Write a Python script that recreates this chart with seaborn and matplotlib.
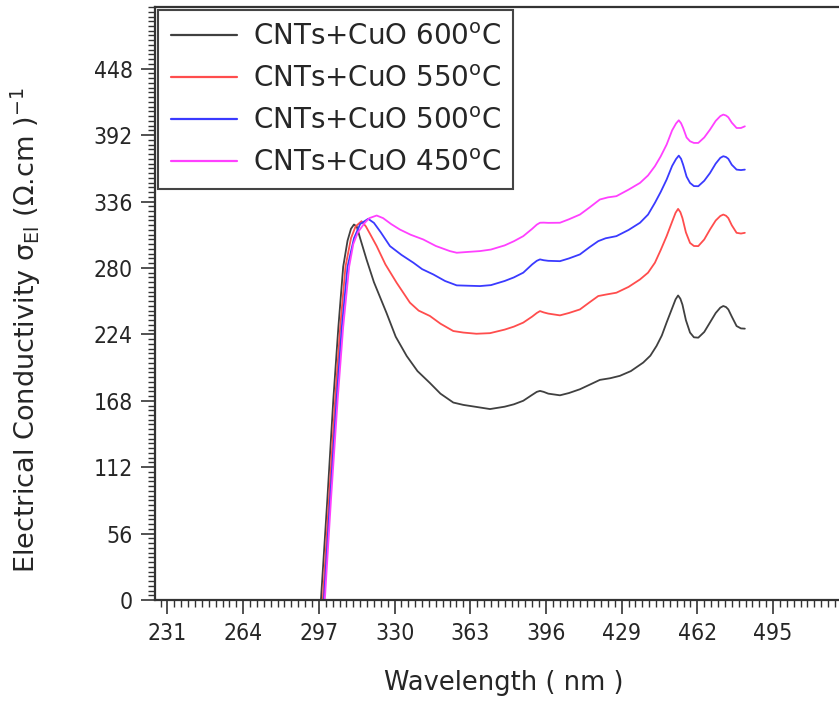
import numpy as np
import pandas as pd
import matplotlib
matplotlib.use("Agg")
import matplotlib.pyplot as plt
from matplotlib.ticker import MultipleLocator
import seaborn as sns

# wavelength (nm) / conductivity readings, one pair of lists per sample
wl_600 = [297.9, 300.7, 303.3, 305.5, 307.6, 309.5, 311.0, 312.3, 313.5, 315.0, 317.8, 321.0,
          326.5, 330.5, 335.3, 340.0, 345.4, 350.0, 355.6, 360.0, 365.0, 371.6, 378.0, 382.0,
          386.1, 390.0, 392.0, 393.4, 395.0, 397.0, 402.1, 406.0, 410.8, 415.0, 419.5, 424.0,
          428.2, 433.0, 438.4, 441.5, 444.2, 446.5, 448.6, 451.0, 452.5, 453.6, 454.6, 455.5,
          457.0, 458.8, 460.5, 462.4, 465.0, 467.5, 470.0, 472.0, 473.3, 474.5, 475.5, 477.0,
          479.1, 481.0, 482.7]
sig_600 = [0, 85, 169, 230, 281, 303, 313, 316.6, 315, 305, 287, 268,
           242, 222, 205.7, 193, 183, 174, 166.5, 164.5, 163, 161, 163, 165,
           168, 173, 175.5, 176.3, 175.5, 174, 172.6, 174.5, 177.7, 181.5, 185.6, 187,
           189, 193, 200.2, 206, 214.2, 223, 234, 246, 253.5, 256.8, 254, 249,
           236, 225.5, 221.5, 221.2, 226, 234, 242, 246.5, 247.9, 247, 245, 239,
           231, 229, 228.8]

wl_550 = [298.7, 301.4, 304.1, 306.3, 308.6, 311.0, 313.0, 315.6, 317.5, 319.5, 322.2, 326.0,
          330.9, 336.7, 340.5, 345.4, 350.0, 355.6, 360.0, 365.7, 371.6, 378.0, 382.0, 386.1,
          390.0, 392.0, 393.4, 395.0, 397.0, 402.1, 406.0, 410.8, 415.0, 418.8, 422.0, 426.7,
          432.0, 437.0, 440.5, 443.5, 446.0, 448.6, 451.0, 452.5, 453.6, 454.6, 455.5, 457.0,
          458.8, 460.5, 462.4, 465.0, 467.5, 470.0, 472.0, 473.3, 474.5, 475.5, 477.0, 479.1,
          481.0, 482.7]
sig_550 = [0, 85, 169, 230, 281, 305, 315, 319.4, 315, 308, 298.4, 283,
           267.5, 250.7, 244, 239.5, 233, 226.8, 225.5, 224.5, 225, 228, 230.5, 233.9,
           239, 242, 243.6, 242.5, 241.5, 240, 242, 245, 251, 256.3, 257.5, 259.1,
           264, 270.3, 276, 284.4, 295, 306.8, 319, 326.5, 329.8, 327, 322, 310,
           301.1, 298.5, 298.4, 304, 312.4, 320, 323.8, 325, 324, 322, 316, 309.6,
           309, 309.6]

wl_500 = [299.2, 301.9, 304.7, 307.0, 309.5, 312.3, 315.0, 318.5, 321.0, 324.0, 328.0, 333.0,
          338.2, 342.0, 346.9, 352.0, 357.1, 362.0, 367.2, 372.0, 378.0, 382.0, 386.1, 390.0,
          392.0, 393.4, 395.0, 397.0, 402.1, 406.0, 410.8, 415.0, 418.8, 422.0, 426.7, 432.0,
          437.0, 440.5, 443.5, 446.0, 448.6, 451.0, 452.7, 453.9, 454.9, 455.8, 457.3, 458.8,
          460.5, 462.4, 465.0, 467.5, 470.0, 472.0, 473.3, 474.5, 475.5, 477.0, 479.1, 481.0,
          482.7]
sig_500 = [0, 85, 169, 230, 281, 305, 317, 321.4, 318, 310, 298.4, 291,
           284.4, 279, 274.5, 269, 265.3, 265, 264.7, 265.5, 269, 272, 276, 283,
           286, 287.2, 286.5, 286, 285.7, 288, 291.4, 297.5, 302.6, 305, 306.8, 312,
           318.1, 325, 334.9, 344, 354.5, 366, 371.8, 374.7, 372, 367, 357, 351.7,
           349, 348.9, 353.5, 360, 368, 372.8, 374.2, 373.5, 372, 367, 362.9, 362.5,
           362.9]

wl_450 = [299.6, 302.3, 305.2, 307.6, 310.2, 312.0, 314.0, 317.0, 319.0, 322.2, 325.0, 328.5,
          332.3, 337.0, 342.5, 348.0, 354.1, 357.1, 362.0, 367.2, 372.0, 378.0, 382.0, 386.1,
          390.0, 392.0, 393.4, 395.0, 397.0, 402.1, 406.0, 410.8, 415.0, 419.5, 423.0, 426.7,
          432.0, 437.0, 440.5, 443.5, 446.0, 448.6, 451.0, 452.7, 453.9, 454.9, 455.8, 457.3,
          458.8, 460.5, 462.4, 465.0, 467.5, 470.0, 472.0, 473.3, 474.5, 475.5, 477.0, 479.1,
          481.0, 482.7]
sig_450 = [0, 85, 169, 230, 281, 300, 310, 318, 322, 324.2, 322, 317,
           312.4, 308, 304, 298.5, 294.2, 292.8, 293.5, 294.2, 295.5, 299, 302.5, 306.8,
           313, 316.5, 318.1, 318.2, 318, 318.1, 321, 325, 331, 337.7, 339.5, 340.5,
           346, 351.7, 358, 365.8, 374, 384, 396, 401.8, 404.5, 402, 398, 390,
           386.8, 385.4, 385.4, 390, 396.6, 404, 408, 409.3, 408.5, 407, 402.5, 398,
           398, 399.4]

labels = ["CNTs+CuO 600$^{\\mathrm{o}}$C", "CNTs+CuO 550$^{\\mathrm{o}}$C",
          "CNTs+CuO 500$^{\\mathrm{o}}$C", "CNTs+CuO 450$^{\\mathrm{o}}$C"]
colors = ["#404040", "#ff4d4d", "#3a3aff", "#ff40ff"]
x_major = [231, 264, 297, 330, 363, 396, 429, 462, 495]
y_major = [0, 56, 112, 168, 224, 280, 336, 392, 448]

sns.set_style("ticks")
plt.rcParams['font.family'] = ['DejaVu Sans']
plt.rcParams['mathtext.fontset'] = 'dejavusans'

frames = []
for lab, w, s in zip(labels, [wl_600, wl_550, wl_500, wl_450], [sig_600, sig_550, sig_500, sig_450]):
    frames.append(pd.DataFrame({"wl": w, "sig": s, "sample": lab}))
df = pd.concat(frames, ignore_index=True)

fig = plt.figure(figsize=(8.39, 7.02), dpi=100)
ax = fig.add_axes([0.1847, 0.1453, 0.8324, 0.8447])

sns.lineplot(data=df, x="wl", y="sig", hue="sample", palette=dict(zip(labels, colors)),
             sort=False, estimator=None, linewidth=1.3, ax=ax)

ax.set_xlim(225.55, 530)
ax.set_ylim(0, 500)
ax.set_xticks(x_major)
ax.set_yticks(y_major)
ax.xaxis.set_minor_locator(MultipleLocator(3))
ax.yaxis.set_minor_locator(MultipleLocator(4))
ax.tick_params(which="major", length=10, width=1.2, color="#333333", labelsize=16.5, pad=6)
ax.tick_params(which="minor", length=5, width=1.0, color="#333333")
for t in ax.get_xticklabels() + ax.get_yticklabels():
    t.set_fontstretch("condensed")
ax.spines["right"].set_visible(False)
for side in ["left", "bottom", "top"]:
    ax.spines[side].set_linewidth(1.6)
    ax.spines[side].set_color("#333333")

ax.set_xlabel("Wavelength ( nm )", fontsize=18.5, labelpad=18)
ax.set_ylabel("Electrical Conductivity σ$_{\\mathrm{El}}$ (Ω.cm )$^{-1}$", fontsize=19.5)
ax.yaxis.set_label_coords(-0.16, 0.455)

leg = ax.legend(loc="upper left", fontsize=20, frameon=True, fancybox=False,
                borderaxespad=0.12, handlelength=2.4, handletextpad=0.55, labelspacing=0.5,
                borderpad=0.45)
leg.get_frame().set_edgecolor("#444444")
leg.get_frame().set_linewidth(1.5)
leg.get_frame().set_alpha(1)
for line in leg.get_lines():
    line.set_linewidth(1.6)

fig.savefig("out.png", dpi=100)
